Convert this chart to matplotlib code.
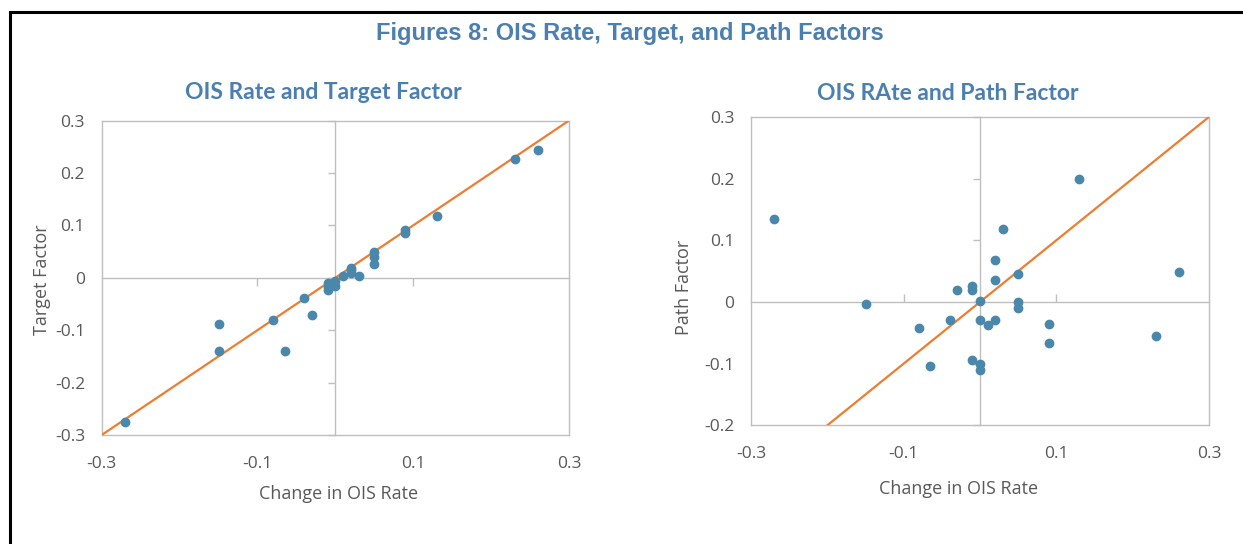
import numpy as np
import matplotlib.pyplot as plt
from matplotlib.patches import Rectangle

# change in OIS rate vs target factor
target_x = [-0.27, -0.15, -0.15, -0.08, -0.065, -0.04, -0.03, -0.01, -0.01, -0.01,
            0.0, 0.0, 0.01, 0.02, 0.02, 0.02, 0.03, 0.05, 0.05, 0.05,
            0.09, 0.09, 0.13, 0.23, 0.26]
target_y = [-0.275, -0.089, -0.140, -0.081, -0.140, -0.038, -0.072, -0.010, -0.017, -0.024,
            -0.006, -0.015, 0.004, 0.019, 0.014, 0.009, 0.003, 0.049, 0.040, 0.026,
            0.092, 0.085, 0.118, 0.227, 0.244]

# change in OIS rate vs path factor
path_x = [-0.27, -0.15, -0.08, -0.065, -0.04, -0.03, -0.01, -0.01, -0.01,
          0.0, 0.0, 0.0, 0.0, 0.01, 0.02, 0.02, 0.02, 0.03, 0.05, 0.05, 0.05,
          0.09, 0.09, 0.13, 0.23, 0.26]
path_y = [0.134, -0.004, -0.043, -0.104, -0.030, 0.020, 0.025, 0.020, -0.094,
          0.001, -0.029, -0.100, -0.111, -0.037, 0.068, 0.036, -0.030, 0.119, 0.045, 0.0, -0.010,
          -0.035, -0.067, 0.199, -0.056, 0.049]

# 45 degree reference line
fit_x = [-0.3, 0.3]
fit_y = [-0.3, 0.3]

x_ticks = [-0.3, -0.1, 0.1, 0.3]
x_ticklabels = ['-0.3', '-0.1', '0.1', '0.3']

blue = '#4a88ab'
orange = '#ed7d31'
title_blue = '#4b7fb0'
grey_txt = '#595959'
grey_line = '#bfbfbf'

plt.rcParams['font.family'] = ['Open Sans', 'DejaVu Sans']

fig = plt.figure(figsize=(12.43, 5.44), dpi=100)

def make_panel(rect, xs, ys, ylim, yticks, title, title_xy, ylabel, ylab_xy, xlab_xy):
    ax = fig.add_axes(rect)
    ax.plot(fit_x, fit_y, color=orange, lw=1.6, zorder=3, clip_on=True)
    ax.plot(xs, ys, 'o', color=blue, ms=6, zorder=4, clip_on=False)
    ax.set_xlim(-0.3, 0.3)
    ax.set_ylim(*ylim)
    ax.set_xticks(x_ticks)
    ax.set_xticklabels(x_ticklabels)
    ax.set_yticks(yticks)
    ax.set_yticklabels(['0' if abs(t) < 1e-9 else '%g' % t for t in yticks])
    ax.tick_params(length=0, labelsize=12.5, labelcolor=grey_txt)
    ax.tick_params(axis='y', pad=12)
    ax.tick_params(axis='x', pad=15)
    for s in ax.spines.values():
        s.set_color(grey_line)
        s.set_linewidth(1.0)
    # zero lines with small tick marks, like the excel axis crossing
    vz = ax.secondary_yaxis(0.5)
    vz.set_yticks(yticks)
    vz.set_yticklabels([])
    vz.tick_params(direction='in', length=5, color=grey_line, width=1.0)
    for s in vz.spines.values():
        s.set_color(grey_line)
        s.set_linewidth(1.0)
    yfrac = (0 - ylim[0]) / (ylim[1] - ylim[0])
    hz = ax.secondary_xaxis(yfrac)
    hz.set_xticks([-0.1, 0.1])
    hz.set_xticklabels([])
    hz.tick_params(direction='in', length=6, color=grey_line, width=1.0)
    for s in hz.spines.values():
        s.set_color(grey_line)
        s.set_linewidth(1.0)

    ax.set_xlabel('Change in OIS Rate', fontsize=13, color=grey_txt)
    ax.xaxis.set_label_coords(*xlab_xy)
    ax.set_ylabel(ylabel, fontsize=13, color=grey_txt)
    ax.yaxis.set_label_coords(*ylab_xy)
    ax.text(title_xy[0], title_xy[1], title, transform=ax.transAxes, ha='center', va='center',
            fontsize=16.5, fontweight='bold', color=title_blue, family=['Lato', 'DejaVu Sans'])
    return ax

make_panel([0.0818, 0.2004, 0.376, 0.578], target_x, target_y, (-0.3, 0.3),
           [-0.3, -0.2, -0.1, 0.0, 0.1, 0.2, 0.3],
           'OIS Rate and Target Factor', (0.474, 1.088),
           'Target Factor', (-0.108, 0.493), (0.506, -0.16))
make_panel([0.6042, 0.2182, 0.3685, 0.567], path_x, path_y, (-0.2, 0.3),
           [-0.2, -0.1, 0.0, 0.1, 0.2, 0.3],
           'OIS RAte and Path Factor', (0.43, 1.077),
           'Path Factor', (-0.127, 0.448), (0.454, -0.177))

fig.text(0.507, 0.939, 'Figures 8: OIS Rate, Target, and Path Factors', ha='center', va='center',
         fontsize=17, fontweight='bold', color=title_blue, family=['Liberation Sans', 'DejaVu Sans'])

# black frame, cut off at the right and bottom like the source
fig.patches.append(Rectangle((9.5 / 1243, -0.1), 2.0, 1.1 - 11.5 / 544, transform=fig.transFigure,
                             fill=False, edgecolor='black', lw=2.2))

fig.savefig('out.png', dpi=100)
